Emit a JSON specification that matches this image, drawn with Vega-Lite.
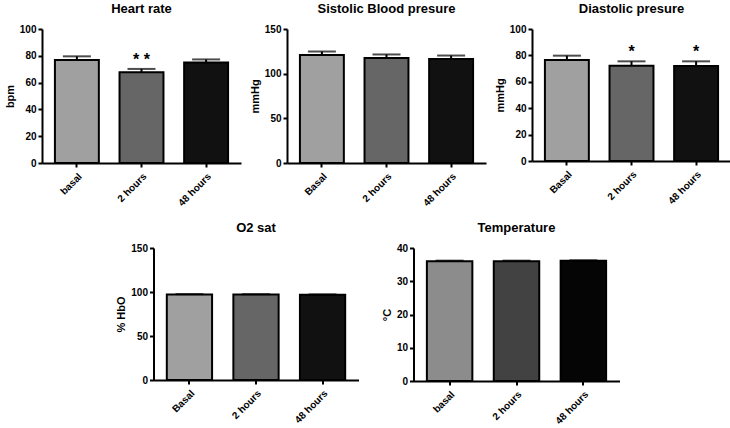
{
  "$schema": "https://vega.github.io/schema/vega-lite/v6.json",
  "background": "white",
  "padding": {"left": 4, "top": 3, "right": 0, "bottom": 2},
  "config": {
    "font": "Liberation Sans",
    "view": {"stroke": null},
    "title": {"fontSize": 13, "fontWeight": "bold", "color": "black", "offset": 8},
    "axis": {
      "domainColor": "black", "domainWidth": 2, "tickColor": "black", "tickWidth": 2, "tickSize": 4,
      "labelFontWeight": "bold", "labelFontSize": 10, "labelColor": "black", "labelFont": "Liberation Sans",
      "titleFontWeight": "bold", "titleFontSize": 11, "titleColor": "black", "titleFont": "Liberation Sans",
      "grid": false, "labelOverlap": false, "labelFlush": false
    },
    "axisX": {"labelAngle": -45, "title": null, "labelPadding": 4}
  },
  "resolve": {"scale": {"color": "independent", "y": "independent", "x": "independent"}},
  "vconcat": [
    {
      "spacing": 8,
      "resolve": {"scale": {"color": "independent", "y": "independent", "x": "independent"}},
      "hconcat": [
        {
          "title": "Heart rate",
          "width": 199, "height": 134,
          "data": {"values": [
            {"group": "basal", "value": 76.8, "upper": 79.6, "sig": ""},
            {"group": "2 hours", "value": 67.8, "upper": 70.2, "sig": "* *"},
            {"group": "48 hours", "value": 75.0, "upper": 77.3, "sig": ""}
          ]},
          "encoding": {"x": {"field": "group", "type": "nominal", "sort": null, "scale": {"paddingInner": 0.32, "paddingOuter": 0.2}}},
          "layer": [
            {"mark": {"type": "bar", "stroke": "black", "strokeWidth": 2},
             "encoding": {
               "y": {"field": "value", "type": "quantitative", "scale": {"domain": [0, 100]}, "axis": {"title": "bpm", "values": [0, 20, 40, 60, 80, 100]}},
               "color": {"field": "group", "type": "nominal", "legend": null, "scale": {"domain": ["basal", "2 hours", "48 hours"], "range": ["#a0a0a0", "#666666", "#111111"]}}}},
            {"mark": {"type": "rule", "strokeWidth": 2, "color": "black"},
             "encoding": {"y": {"field": "value", "type": "quantitative", "scale": {"domain": [0, 100]}, "axis": {"title": "bpm", "values": [0, 20, 40, 60, 80, 100]}}, "y2": {"field": "upper"}}},
            {"mark": {"type": "tick", "thickness": 2, "size": 28, "color": "black"},
             "encoding": {"y": {"field": "upper", "type": "quantitative", "scale": {"domain": [0, 100]}, "axis": {"title": "bpm", "values": [0, 20, 40, 60, 80, 100]}}}},
            {"mark": {"type": "text", "fontSize": 16, "fontWeight": "bold", "baseline": "alphabetic", "dy": -4, "color": "black"},
             "encoding": {"y": {"field": "upper", "type": "quantitative", "scale": {"domain": [0, 100]}, "axis": {"title": "bpm", "values": [0, 20, 40, 60, 80, 100]}}, "text": {"field": "sig"}}}
          ]
        },
        {
          "title": "Sistolic Blood presure",
          "width": 199, "height": 134,
          "data": {"values": [
            {"group": "Basal", "value": 121, "upper": 124.8},
            {"group": "2 hours", "value": 117.6, "upper": 121.5},
            {"group": "48 hours", "value": 116.5, "upper": 120.3}
          ]},
          "encoding": {"x": {"field": "group", "type": "nominal", "sort": null, "scale": {"paddingInner": 0.32, "paddingOuter": 0.2}}},
          "layer": [
            {"mark": {"type": "bar", "stroke": "black", "strokeWidth": 2},
             "encoding": {
               "y": {"field": "value", "type": "quantitative", "scale": {"domain": [0, 150]}, "axis": {"title": "mmHg", "values": [0, 50, 100, 150]}},
               "color": {"field": "group", "type": "nominal", "legend": null, "scale": {"domain": ["Basal", "2 hours", "48 hours"], "range": ["#a0a0a0", "#666666", "#111111"]}}}},
            {"mark": {"type": "rule", "strokeWidth": 2, "color": "black"},
             "encoding": {"y": {"field": "value", "type": "quantitative", "scale": {"domain": [0, 150]}, "axis": {"title": "mmHg", "values": [0, 50, 100, 150]}}, "y2": {"field": "upper"}}},
            {"mark": {"type": "tick", "thickness": 2, "size": 28, "color": "black"},
             "encoding": {"y": {"field": "upper", "type": "quantitative", "scale": {"domain": [0, 150]}, "axis": {"title": "mmHg", "values": [0, 50, 100, 150]}}}}
          ]
        },
        {
          "title": "Diastolic presure",
          "width": 199, "height": 132,
          "data": {"values": [
            {"group": "Basal", "value": 76.5, "upper": 79.8, "sig": ""},
            {"group": "2 hours", "value": 72.2, "upper": 75.5, "sig": "*"},
            {"group": "48 hours", "value": 72.0, "upper": 75.5, "sig": "*"}
          ]},
          "encoding": {"x": {"field": "group", "type": "nominal", "sort": null, "scale": {"paddingInner": 0.32, "paddingOuter": 0.2}}},
          "layer": [
            {"mark": {"type": "bar", "stroke": "black", "strokeWidth": 2},
             "encoding": {
               "y": {"field": "value", "type": "quantitative", "scale": {"domain": [0, 100]}, "axis": {"title": "mmHg", "values": [0, 20, 40, 60, 80, 100]}},
               "color": {"field": "group", "type": "nominal", "legend": null, "scale": {"domain": ["Basal", "2 hours", "48 hours"], "range": ["#a0a0a0", "#666666", "#111111"]}}}},
            {"mark": {"type": "rule", "strokeWidth": 2, "color": "black"},
             "encoding": {"y": {"field": "value", "type": "quantitative", "scale": {"domain": [0, 100]}, "axis": {"title": "mmHg", "values": [0, 20, 40, 60, 80, 100]}}, "y2": {"field": "upper"}}},
            {"mark": {"type": "tick", "thickness": 2, "size": 28, "color": "black"},
             "encoding": {"y": {"field": "upper", "type": "quantitative", "scale": {"domain": [0, 100]}, "axis": {"title": "mmHg", "values": [0, 20, 40, 60, 80, 100]}}}},
            {"mark": {"type": "text", "fontSize": 16, "fontWeight": "bold", "baseline": "alphabetic", "dy": -4, "color": "black"},
             "encoding": {"y": {"field": "upper", "type": "quantitative", "scale": {"domain": [0, 100]}, "axis": {"title": "mmHg", "values": [0, 20, 40, 60, 80, 100]}}, "text": {"field": "sig"}}}
          ]
        }
      ]
    },
    {
      "spacing": 22,
      "resolve": {"scale": {"color": "independent", "y": "independent", "x": "independent"}},
      "hconcat": [
        {
          "title": "O2 sat",
          "width": 205, "height": 132,
          "data": {"values": [
            {"group": "Basal", "value": 97.2, "upper": 97.6},
            {"group": "2 hours", "value": 97.1, "upper": 97.5},
            {"group": "48 hours", "value": 96.9, "upper": 97.3}
          ]},
          "encoding": {"x": {"field": "group", "type": "nominal", "sort": null, "scale": {"paddingInner": 0.32, "paddingOuter": 0.2}}},
          "layer": [
            {"mark": {"type": "bar", "stroke": "black", "strokeWidth": 2},
             "encoding": {
               "y": {"field": "value", "type": "quantitative", "scale": {"domain": [0, 150]}, "axis": {"title": "%  HbO", "values": [0, 50, 100, 150]}},
               "color": {"field": "group", "type": "nominal", "legend": null, "scale": {"domain": ["Basal", "2 hours", "48 hours"], "range": ["#a0a0a0", "#666666", "#111111"]}}}},
            {"mark": {"type": "rule", "strokeWidth": 2, "color": "black"},
             "encoding": {"y": {"field": "value", "type": "quantitative", "scale": {"domain": [0, 150]}, "axis": {"title": "%  HbO", "values": [0, 50, 100, 150]}}, "y2": {"field": "upper"}}},
            {"mark": {"type": "tick", "thickness": 2, "size": 28, "color": "black"},
             "encoding": {"y": {"field": "upper", "type": "quantitative", "scale": {"domain": [0, 150]}, "axis": {"title": "%  HbO", "values": [0, 50, 100, 150]}}}}
          ]
        },
        {
          "title": "Temperature",
          "width": 206, "height": 133,
          "data": {"values": [
            {"group": "basal", "value": 36.0, "upper": 36.2},
            {"group": "2 hours", "value": 36.0, "upper": 36.2},
            {"group": "48 hours", "value": 36.2, "upper": 36.3}
          ]},
          "encoding": {"x": {"field": "group", "type": "nominal", "sort": null, "scale": {"paddingInner": 0.32, "paddingOuter": 0.2}}},
          "layer": [
            {"mark": {"type": "bar", "stroke": "black", "strokeWidth": 2},
             "encoding": {
               "y": {"field": "value", "type": "quantitative", "scale": {"domain": [0, 40]}, "axis": {"title": "°C", "values": [0, 10, 20, 30, 40]}},
               "color": {"field": "group", "type": "nominal", "legend": null, "scale": {"domain": ["basal", "2 hours", "48 hours"], "range": ["#8c8c8c", "#424242", "#050505"]}}}},
            {"mark": {"type": "rule", "strokeWidth": 2, "color": "black"},
             "encoding": {"y": {"field": "value", "type": "quantitative", "scale": {"domain": [0, 40]}, "axis": {"title": "°C", "values": [0, 10, 20, 30, 40]}}, "y2": {"field": "upper"}}},
            {"mark": {"type": "tick", "thickness": 2, "size": 28, "color": "black"},
             "encoding": {"y": {"field": "upper", "type": "quantitative", "scale": {"domain": [0, 40]}, "axis": {"title": "°C", "values": [0, 10, 20, 30, 40]}}}}
          ]
        }
      ]
    }
  ],
  "spacing": 14,
  "center": true
}
